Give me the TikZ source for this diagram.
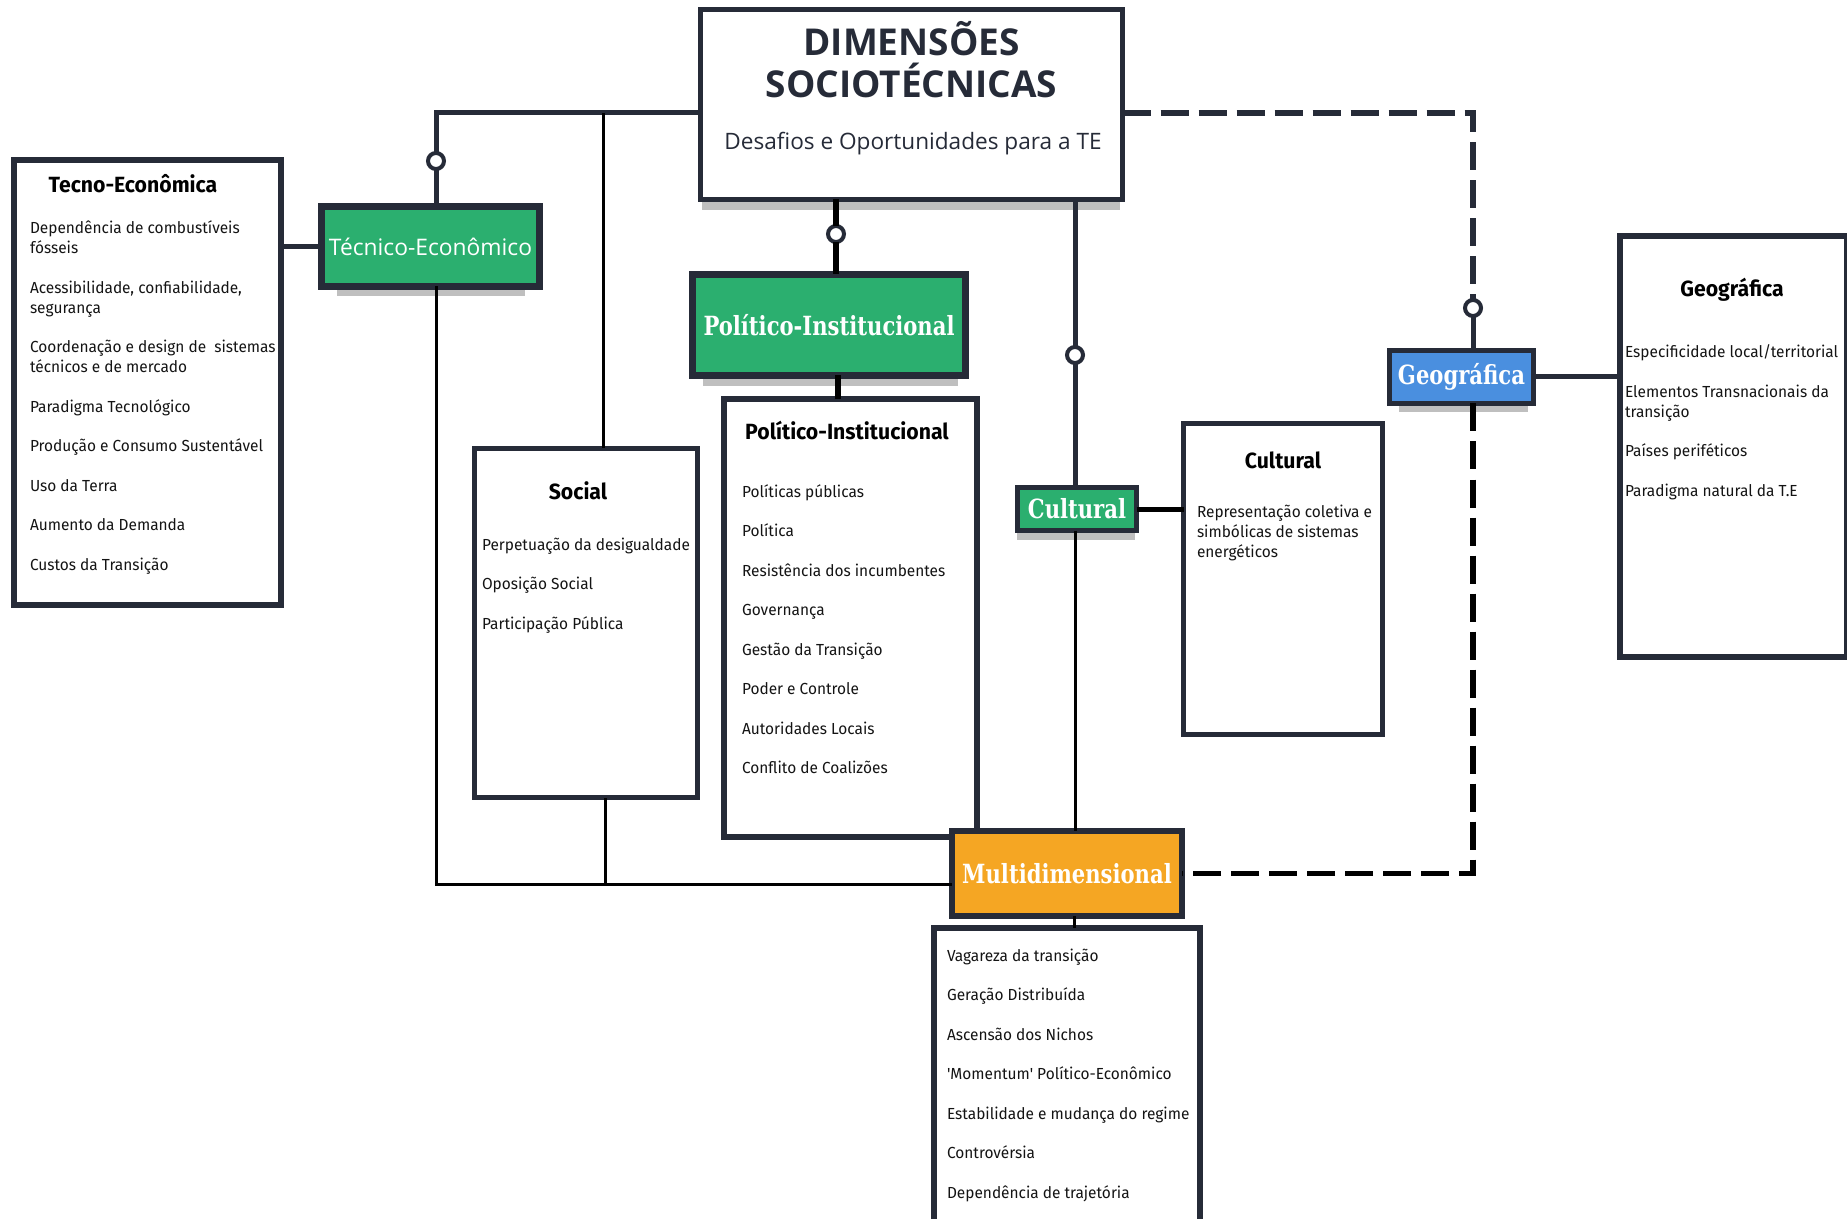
\documentclass[tikz,border=0pt]{standalone}
\usepackage{fontspec}
\setmainfont{Fira Sans}[Ligatures=TeXOff, FakeStretch=0.965]
\newfontfamily\headfont{Open Sans}
\newfontfamily\slabfont[FakeStretch=0.8]{DejaVu Serif}
\definecolor{navy}{HTML}{262B38}
\definecolor{verde}{HTML}{2BAF6F}
\definecolor{laranja}{HTML}{F5A623}
\definecolor{azul}{HTML}{4A8FDF}

\begin{document}
\begin{tikzpicture}[
    x=0.5pt, y=-0.5pt,
    every node/.append style={inner sep=0pt, outer sep=0pt},
    dimbox/.style={rectangle, draw=navy, line width=3.5pt, text=white},
    slab/.style={font=\slabfont\bfseries\fontsize{13.2}{16}\selectfont},
    listbox/.style={rectangle, draw=navy, line width=3pt, fill=white},
    head/.style={font=\fontsize{11}{13}\selectfont\bfseries, text=black, anchor=base},
    items/.style={font=\fontsize{8}{10}\selectfont, align=left, text=black!92, anchor=north west},
    ring/.style={circle, draw=navy, fill=white, line width=2pt, minimum size=8pt},
    link/.style={draw=navy, line width=2.5pt},
    heavy/.style={draw=black, line width=3pt},
    wire/.style={draw=black, line width=1.5pt},
    dashlink/.style={draw=navy, line width=2.75pt, dash pattern=on 14pt off 5pt},
    ribbon/.style={fill=black!25}
]
    \useasboundingbox (0,0) rectangle (1847,1219);

    % sombras
    \fill[ribbon] (702,202) rectangle (1120,210);
    \fill[ribbon] (337,290) rectangle (525,296);
    \fill[ribbon] (703,379) rectangle (958,386);
    \fill[ribbon] (1017,533) rectangle (1135,540);
    \fill[ribbon] (1399,406) rectangle (1528,412);

    % caixa central
    \node[dimbox, line width=2.5pt, fill=white, minimum width=211pt, minimum height=95pt] (title) at (911.5,104.5) {};
    \node[text=navy, font=\headfont\fontsize{18.5}{21}\selectfont\bfseries, align=center] (titleTxt) at (911.5,60) {DIMENSÕES\\SOCIOTÉCNICAS};
    \node[text=navy, font=\headfont\fontsize{11.3}{13}\selectfont, anchor=base] (subTxt) at (913,150) {Desafios e Oportunidades para a TE};

    % dimensões
    \node[dimbox, fill=verde, minimum width=109pt, minimum height=40pt, font=\headfont\fontsize{11.4}{13}\selectfont] (tec) at (430.5,246.5) {Técnico-Econômico};
    \node[dimbox, slab, fill=verde, minimum width=136.5pt, minimum height=50.5pt] (pig) at (829,325) {Político-Institucional};
    \node[dimbox, slab, fill=verde, line width=2.5pt, minimum width=59.5pt, minimum height=21.5pt] (cult) at (1077,509) {Cultural};
    \node[dimbox, slab, fill=azul, line width=2.5pt, minimum width=72pt, minimum height=26.5pt] (geo) at (1461.5,377) {Geográfica};

    % listas
    \node[listbox, minimum width=133.5pt, minimum height=222.5pt] (tecList) at (147.5,382.5) {};
    \node[head] (tecHead) at (133,193) {Tecno-Econômica};
    \node[items] (tecItems) at (30,221) {Dependência de combustíveis\\fósseis\\[9.75pt]Acessibilidade, confiabilidade,\\segurança\\[9.75pt]Coordenação e design de\ \ sistemas\\técnicos e de mercado\\[9.75pt]Paradigma Tecnológico\\[9.75pt]Produção e Consumo Sustentável\\[9.75pt]Uso da Terra\\[9.75pt]Aumento da Demanda\\[9.75pt]Custos da Transição};

    \node[listbox, line width=2.5pt, minimum width=111.5pt, minimum height=174.5pt] (social) at (586,623) {};
    \node[head] (socHead) at (578,499) {Social};
    \node[items] (socItems) at (482,538) {Perpetuação da desigualdade\\[9.75pt]Oposição Social\\[9.75pt]Participação Pública};

    \node[listbox, minimum width=126.5pt, minimum height=219pt] (piList) at (850.5,618) {};
    \node[head] (piHead) at (847,440) {Político-Institucional};
    \node[items] (piItems) at (742,484.5) {Políticas públicas\\[9.75pt]Política\\[9.75pt]Resistência dos incumbentes\\[9.75pt]Governança\\[9.75pt]Gestão da Transição\\[9.75pt]Poder e Controle\\[9.75pt]Autoridades Locais\\[9.75pt]Conflito de Coalizões};

    \node[listbox, line width=2.5pt, minimum width=99.5pt, minimum height=155.5pt] (cultList) at (1283,579) {};
    \node[head] (cultHead) at (1283,468) {Cultural};
    \node[items] (cultItems) at (1197,505) {Representação coletiva e\\simbólicas de sistemas\\energéticos};

    \node[listbox, minimum width=113.5pt, minimum height=210.5pt] (geoList) at (1733.5,446.5) {};
    \node[head] (geoHead) at (1732,297) {Geográfica};
    \node[items] (geoItems) at (1625,345) {Especificidade local/territorial\\[9.75pt]Elementos Transnacionais da\\transição\\[9.75pt]Países periféticos\\[9.75pt]Paradigma natural da T.E};

    \node[listbox, minimum width=133pt, minimum height=152pt] (multiList) at (1067,1080) {};
    \node[items] (multiItems) at (947,949) {Vagareza da transição\\[9.75pt]Geração Distribuída\\[9.75pt]Ascensão dos Nichos\\[9.75pt]'Momentum' Político-Econômico\\[9.75pt]Estabilidade e mudança do regime\\[9.75pt]Controvérsia\\[9.75pt]Dependência de trajetória};

    % multidimensional por cima da lista
    \node[dimbox, slab, fill=laranja, line width=3pt, minimum width=115pt, minimum height=42.5pt] (multi) at (1067,873.5) {Multidimensional};

    % anéis
    \node[ring] (ringTec) at (436,161) {};
    \node[ring] (ringPol) at (836,234) {};
    \node[ring] (ringCul) at (1075,355) {};
    \node[ring] (ringGeo) at (1473,308) {};

    % ligações
    \coordinate (topJoin) at (436,113);
    \coordinate (geoJoin) at (1473,113);
    \coordinate (baseJoin) at (436,884);
    \draw[link] (title.west |- topJoin) -- (topJoin) -- (ringTec);
    \draw[link] (ringTec) -- (ringTec |- tec.north);
    \draw[link] (tecList.east |- tec.west) -- (tec.west);
    \draw[wire] ([xshift=8.5pt]social.north) -- ([xshift=8.5pt]social.north |- topJoin);
    \draw[wire] (ringTec |- tec.south) -- (baseJoin) -- (baseJoin -| multi.west);
    \draw[wire] ([xshift=9.5pt]social.south) -- ([xshift=9.5pt]social.south |- baseJoin);
    \draw[heavy] (ringPol |- title.south) -- (ringPol);
    \draw[heavy] (ringPol) -- (ringPol |- pig.north);
    \draw[heavy] ([xshift=4.5pt]pig.south) -- ([xshift=4.5pt]pig.south |- piList.north);
    \draw[link] (ringCul |- title.south) -- (ringCul);
    \draw[link] (ringCul) -- (ringCul |- cult.north);
    \draw[link, draw=black] (cult.east) -- (cultList.west |- cult.east);
    \draw[wire] (ringCul |- cult.south) -- (ringCul |- multi.north);
    \draw[dashlink] (title.east |- geoJoin) -- (geoJoin) -- (ringGeo);
    \draw[link] (ringGeo) -- (ringGeo |- geo.north);
    \draw[link] (geo.east) -- (geoList.west |- geo.east);
    \draw[dashlink, draw=black] (ringGeo |- geo.south) |- (multi.east);
    \draw[wire] ([xshift=3.5pt]multi.south) -- ([xshift=3.5pt]multiList.north);
\end{tikzpicture}
\end{document}
